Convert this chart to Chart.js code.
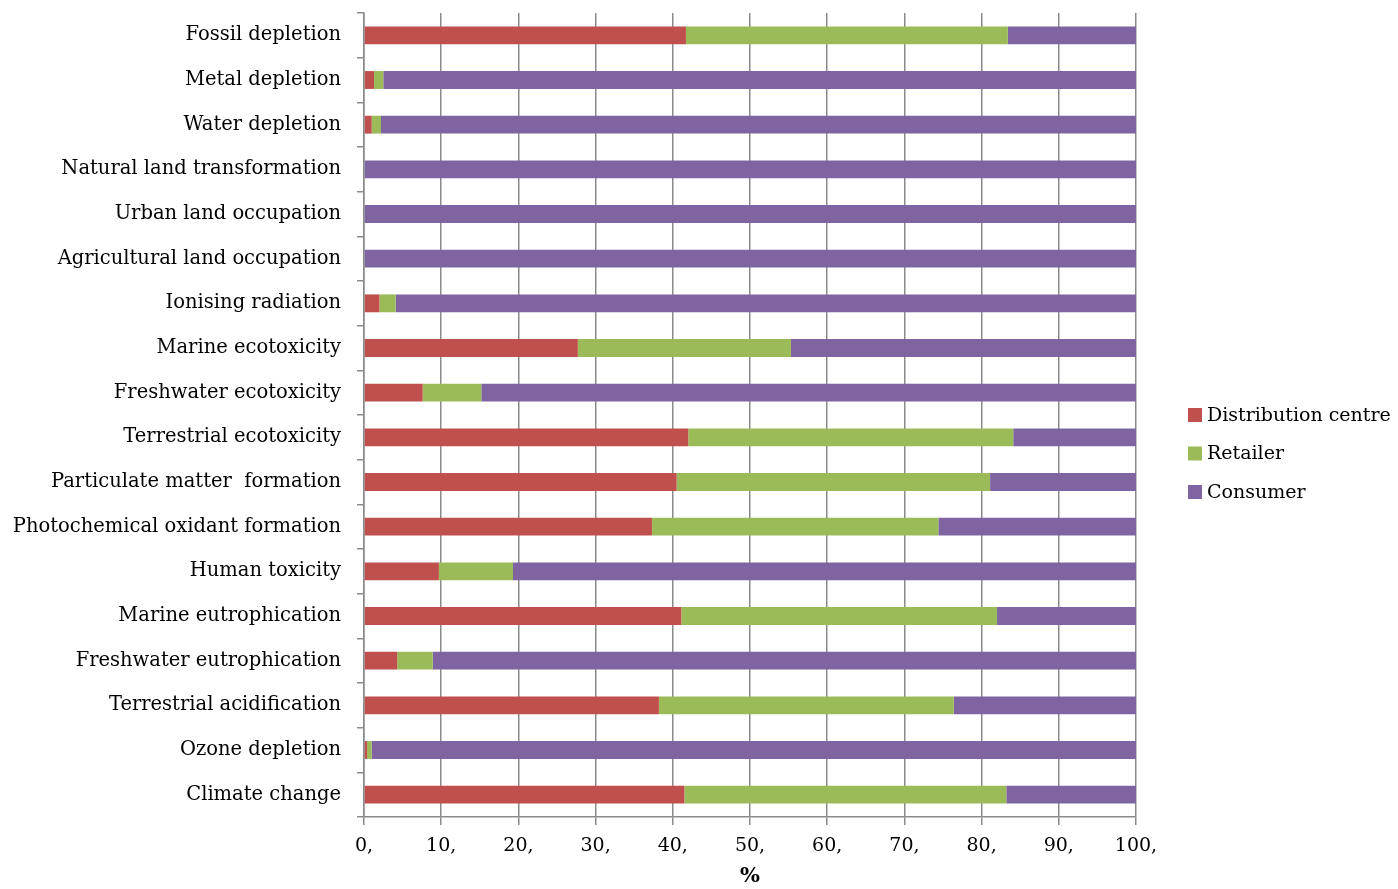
<!DOCTYPE html>
<html>
<head>
<meta charset="utf-8">
<script src="https://cdn.jsdelivr.net/npm/chart.js@4.4.1/dist/chart.umd.min.js"></script>
<style>
  html, body { margin: 0; padding: 0; background: #ffffff; }
  canvas { display: block; }
</style>
</head>
<body>
<canvas id="chart" width="1398" height="889"></canvas>
<script>
// Impact categories, listed top to bottom
const categories = [
  'Fossil depletion',
  'Metal depletion',
  'Water depletion',
  'Natural land transformation',
  'Urban land occupation',
  'Agricultural land occupation',
  'Ionising radiation',
  'Marine ecotoxicity',
  'Freshwater ecotoxicity',
  'Terrestrial ecotoxicity',
  'Particulate matter  formation',
  'Photochemical oxidant formation',
  'Human toxicity',
  'Marine eutrophication',
  'Freshwater eutrophication',
  'Terrestrial acidification',
  'Ozone depletion',
  'Climate change'
];

// Share of each impact per life-cycle stage (%)
const distributionCentre = [41.7, 1.3, 1.0, 0, 0, 0, 2.0, 27.7, 7.6, 42.0, 40.5, 37.3, 9.7, 41.1, 4.3, 38.2, 0.4, 41.5];
const retailer           = [41.7, 1.2, 1.2, 0, 0, 0, 2.1, 27.6, 7.6, 42.1, 40.6, 37.1, 9.6, 40.9, 4.6, 38.2, 0.6, 41.7];
const consumer           = [16.6, 97.5, 97.8, 100, 100, 100, 95.9, 44.7, 84.8, 15.9, 18.9, 25.6, 80.7, 18.0, 91.1, 23.6, 99.0, 16.8];

const seriesNames = ['Distribution centre', 'Retailer', 'Consumer'];
const seriesColors = ['#C0504D', '#9BBB59', '#8064A2'];

const xTicks = [0, 10, 20, 30, 40, 50, 60, 70, 80, 90, 100];

const FONT = "'DejaVu Serif', 'Liberation Serif', serif";
const AXIS_GREY = '#8a8a8a';

// Legend drawn at the right-hand side, stacked vertically
const sideLegend = {
  id: 'sideLegend',
  afterDraw(chart, args, opts) {
    const ctx = chart.ctx;
    ctx.save();
    ctx.font = opts.font;
    ctx.textBaseline = 'middle';
    ctx.textAlign = 'left';
    chart.data.datasets.forEach((ds, i) => {
      const y = opts.top + i * opts.gap;
      ctx.fillStyle = ds.backgroundColor;
      ctx.fillRect(opts.left, y - opts.box / 2, opts.box, opts.box);
      ctx.fillStyle = '#000000';
      ctx.fillText(ds.label, opts.left + opts.box + opts.textGap, y + 1);
    });
    ctx.restore();
  }
};

const seriesValues = [distributionCentre, retailer, consumer];

new Chart(document.getElementById('chart'), {
  type: 'bar',
  data: {
    labels: categories,
    datasets: seriesNames.map((name, i) => ({
      label: name,
      data: seriesValues[i],
      backgroundColor: seriesColors[i],
      borderWidth: 0,
      barPercentage: 0.4,
      categoryPercentage: 1.0
    }))
  },
  options: {
    indexAxis: 'y',
    responsive: false,
    animation: false,
    layout: { padding: { top: 13, right: 262, bottom: 0, left: 0 } },
    plugins: {
      legend: { display: false },
      tooltip: { enabled: false },
      sideLegend: {
        left: 1188, top: 415, gap: 38.5, box: 14, textGap: 5,
        font: "19px " + FONT
      }
    },
    scales: {
      x: {
        stacked: true,
        min: 0,
        max: 100,
        afterBuildTicks(scale) { scale.ticks = xTicks.map(v => ({ value: v })); },
        afterFit(scale) { scale.height = 72; },
        ticks: {
          callback: v => v + ',',
          color: '#000000',
          font: { family: FONT, size: 19 },
          padding: 10,
          maxRotation: 0
        },
        grid: { color: AXIS_GREY, lineWidth: 1.5, tickLength: 8 },
        border: { color: AXIS_GREY, width: 1.5 },
        title: {
          display: true,
          text: '%',
          color: '#000000',
          font: { family: FONT, size: 21, weight: 'bold' },
          padding: { top: 0, bottom: 0 }
        }
      },
      y: {
        stacked: true,
        afterFit(scale) {
          scale.width = 364;
          scale.paddingTop = 0;
          scale.paddingBottom = 0;
        },
        ticks: {
          color: '#000000',
          font: { family: FONT, size: 19.5 },
          padding: 16
        },
        grid: { drawOnChartArea: false, offset: true, color: AXIS_GREY, lineWidth: 1.5, tickLength: 7 },
        border: { color: AXIS_GREY, width: 1.5 }
      }
    }
  },
  plugins: [sideLegend]
});
</script>
</body>
</html>
